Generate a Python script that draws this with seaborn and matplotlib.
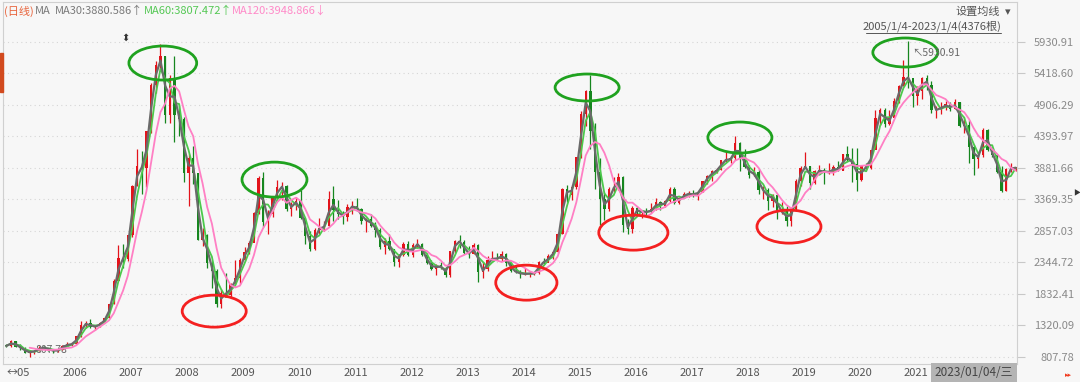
import numpy as np
import pandas as pd
import matplotlib
matplotlib.use("Agg")
import matplotlib.pyplot as plt
import seaborn as sns
from matplotlib.patches import Ellipse

# CSI 300, monthly bars 2005-01 .. 2022-12, then 2023/01/04
close = [
    982, 1059, 966, 954, 870, 891, 898, 957, 955, 917, 896, 923,          # 2005
    985, 1009, 1013, 1136, 1321, 1355, 1290, 1302, 1356, 1432, 1662, 2041,  # 2006
    2407, 2401, 2781, 3582, 3903, 3867, 4471, 5218, 5552, 5689, 4738, 5338,  # 2007
    4731, 4674, 3790, 4040, 3787, 2701, 2780, 2329, 2193, 1663, 1846, 1817,  # 2008
    1990, 2082, 2374, 2516, 2662, 3140, 3720, 2990, 3133, 3380, 3565, 3575,  # 2009
    3204, 3281, 3346, 3067, 2770, 2564, 2868, 2903, 2935, 3364, 3185, 3128,  # 2010
    3077, 3239, 3253, 3211, 3011, 3044, 2933, 2872, 2586, 2696, 2552, 2346,  # 2011
    2464, 2635, 2455, 2631, 2640, 2462, 2332, 2237, 2293, 2254, 2140, 2523,  # 2012
    2688, 2673, 2495, 2475, 2627, 2185, 2229, 2386, 2409, 2399, 2475, 2330,  # 2013
    2203, 2179, 2147, 2158, 2160, 2165, 2350, 2338, 2450, 2509, 2808, 3533,  # 2014
    3435, 3572, 4051, 4749, 5123, 4473, 3816, 3366, 3203, 3534, 3566, 3731,  # 2015
    2946, 2877, 3218, 3156, 3169, 3154, 3204, 3327, 3253, 3336, 3538, 3310,  # 2016
    3387, 3452, 3456, 3439, 3492, 3666, 3737, 3822, 3837, 4006, 4006, 4030,  # 2017
    4275, 4023, 3899, 3756, 3802, 3510, 3517, 3335, 3438, 3153, 3173, 3011,  # 2018
    3202, 3670, 3872, 3913, 3630, 3826, 3835, 3799, 3814, 3887, 3828, 4097,  # 2019
    4003, 3940, 3686, 3912, 3867, 4164, 4695, 4816, 4588, 4695, 4960, 5212,  # 2020
    5352, 5336, 5048, 5123, 5331, 5224, 4811, 4827, 4866, 4909, 4833, 4940,  # 2021
    4564, 4581, 4223, 4016, 4091, 4485, 4170, 4079, 3804, 3508, 3854, 3872,  # 2022
    3887,                                                                   # 2023
]
high = [
    1008, 1075, 1066, 1013, 961, 920, 920, 975, 985, 956, 920, 930,
    995, 1050, 1030, 1140, 1390, 1390, 1415, 1320, 1365, 1440, 1670, 2070,
    2620, 2640, 2790, 3600, 4180, 4150, 4480, 5260, 5620, 5892, 5700, 5390,
    5690, 4900, 4700, 4100, 4240, 3800, 2900, 2800, 2370, 2230, 1900, 2170,
    2000, 2380, 2420, 2590, 2690, 3160, 3750, 3803, 3200, 3400, 3680, 3650,
    3600, 3320, 3400, 3515, 3070, 2850, 2900, 3060, 3020, 3500, 3590, 3350,
    3180, 3290, 3340, 3390, 3230, 3060, 3130, 2990, 2900, 2730, 2800, 2560,
    2480, 2680, 2690, 2650, 2720, 2650, 2490, 2380, 2310, 2340, 2270, 2530,
    2700, 2791, 2710, 2600, 2660, 2640, 2350, 2440, 2520, 2500, 2520, 2490,
    2340, 2290, 2220, 2250, 2190, 2190, 2360, 2420, 2480, 2520, 2820, 3550,
    3600, 3600, 4060, 4800, 5140, 5380, 4600, 4030, 3480, 3560, 3730, 3790,
    3740, 3040, 3260, 3250, 3190, 3230, 3300, 3390, 3340, 3350, 3560, 3570,
    3400, 3490, 3500, 3510, 3500, 3670, 3760, 3850, 3870, 4010, 4150, 4060,
    4403, 4300, 4180, 3920, 3890, 3860, 3580, 3550, 3450, 3450, 3330, 3260,
    3210, 3700, 3900, 4127, 3900, 3850, 3920, 3880, 3960, 3930, 3990, 4100,
    4230, 4200, 4200, 3920, 3960, 4170, 4820, 4850, 4850, 4810, 5010, 5220,
    5626, 5931, 5260, 5200, 5350, 5380, 5290, 4880, 4950, 4960, 4950, 5000,
    4950, 4700, 4650, 4250, 4110, 4520, 4510, 4200, 4100, 3900, 3870, 3950,
    3890,
]
low = [
    960, 961, 962, 920, 860, 808, 845, 893, 930, 900, 870, 890,
    920, 980, 985, 1010, 1135, 1270, 1280, 1240, 1290, 1355, 1430, 1660,
    2040, 2250, 2360, 2760, 3580, 3450, 3560, 4450, 5100, 5450, 4600, 4600,
    4300, 4400, 3650, 3250, 3620, 2700, 2600, 2250, 1930, 1620, 1607, 1780,
    1780, 1990, 1990, 2360, 2480, 2740, 3130, 2920, 2810, 3080, 3350, 3360,
    3180, 3100, 3200, 3050, 2640, 2520, 2550, 2800, 2850, 2920, 3020, 3050,
    2970, 3020, 3120, 3170, 2960, 2830, 2920, 2750, 2560, 2480, 2540, 2290,
    2270, 2450, 2440, 2430, 2580, 2450, 2310, 2220, 2130, 2240, 2102, 2110,
    2500, 2580, 2470, 2420, 2470, 2023, 2080, 2200, 2380, 2380, 2370, 2290,
    2180, 2170, 2090, 2140, 2110, 2130, 2150, 2320, 2340, 2400, 2500, 2800,
    3320, 3360, 3540, 4030, 4550, 4190, 3530, 2950, 3030, 3170, 3480, 3520,
    2840, 2800, 2820, 3120, 3060, 3100, 3140, 3190, 3190, 3240, 3330, 3290,
    3290, 3380, 3400, 3400, 3350, 3480, 3620, 3670, 3790, 3840, 3980, 3960,
    4010, 3830, 3870, 3720, 3740, 3460, 3370, 3200, 3240, 3050, 3120, 2935,
    2940, 3190, 3590, 3870, 3540, 3620, 3790, 3620, 3780, 3760, 3820, 3850,
    3990, 3650, 3500, 3660, 3830, 3860, 4180, 4580, 4540, 4580, 4720, 4930,
    5210, 5180, 4860, 4900, 4990, 5140, 4770, 4680, 4760, 4810, 4800, 4840,
    4540, 4450, 3960, 3757, 3870, 4060, 4150, 4060, 3790, 3490, 3500, 3810,
    3820,
]
first_open = 1000

years = [str(y) for y in range(2005, 2022)]
ytick_labels = ["807.78", "1320.09", "1832.41", "2344.72", "2857.03", "3369.35",
                "3881.66", "4393.97", "4906.29", "5418.60", "5930.91"]

# highlighted tops / bottoms: (month index, level, width, height)
peaks = [(34.0, 5581, 14.5, 553), (57.9, 3686, 13.9, 569), (124.8, 5183, 13.7, 439),
         (157.5, 4370, 13.7, 504), (192.9, 5752, 13.9, 472)]
troughs = [(45.0, 1548, 13.7, 520), (111.8, 2011, 13.1, 569),
           (134.7, 2824, 14.8, 569), (168.0, 2922, 13.7, 537)]

df = pd.DataFrame({"close": close, "high": high, "low": low})
df["open"] = df["close"].shift(1).fillna(first_open)
df["pos"] = np.arange(len(df)) + 0.5
df["ma30"] = df["close"].rolling(2, min_periods=1).mean()
df["ma60"] = df["close"].rolling(3, min_periods=1).mean()
df["ma120"] = df["close"].rolling(6).mean()

sns.set_style("white")
plt.rcParams["font.family"] = ["Noto Sans CJK SC", "DejaVu Sans"]

W, H = 1080, 382
bg = "#f7f7f7"
fig = plt.figure(figsize=(W / 100, H / 100), dpi=100)
fig.patch.set_facecolor(bg)
ax = fig.add_axes([3 / W, 18 / H, 1014 / W, 362 / H])
ax.set_facecolor(bg)


def px(x, y):
    return x / W, 1 - y / H


# candles (red up / green down)
up = df["close"] >= df["open"]
colors = np.where(up, "#e3131b", "#16861f")
ax.vlines(df["pos"], df["low"], df["high"], colors=colors, linewidth=0.9, zorder=2)
ax.bar(df["pos"], (df["close"] - df["open"]).abs().clip(lower=8),
       bottom=np.minimum(df["open"], df["close"]), width=0.5, color=colors,
       linewidth=0, zorder=2)

sns.lineplot(data=df, x="pos", y="ma60", ax=ax, color="#4cc94c", linewidth=1.3, zorder=3)
sns.lineplot(data=df, x="pos", y="ma30", ax=ax, color="#6a6a6a", linewidth=1.6, zorder=4)
sns.lineplot(data=df, x="pos", y="ma120", ax=ax, color="#ff7fc4", linewidth=1.3, zorder=4)

for cx, cy, w, h in peaks:
    ax.add_patch(Ellipse((cx, cy), w, h, fill=False, edgecolor="#1fa21f", linewidth=2, zorder=6))
for cx, cy, w, h in troughs:
    ax.add_patch(Ellipse((cx, cy), w, h, fill=False, edgecolor="#f42020", linewidth=2, zorder=6))

ax.set_xlim(-0.2, len(df) - 0.2)
ax.set_ylim(689, 6573)
ytick_vals = [float(v) for v in ytick_labels]
ax.set_yticks(ytick_vals)
ax.set_yticklabels(ytick_labels)
ax.yaxis.tick_right()
ax.tick_params(axis="y", length=6, width=0.8, color="#c8c8c8", pad=35,
               labelsize=8, labelcolor="#8a8a8a")
for t in ax.yaxis.get_major_ticks():
    t.label2.set_horizontalalignment("right")
for v in ytick_vals:
    ax.axhline(v, color="#d6d6d6", linestyle=(0, (1, 3)), linewidth=0.8, zorder=0)

year_pos = [12 * i for i in range(len(years))]
ax.set_xticks(year_pos[1:] + [12 * len(years) + 12])
ax.set_xticklabels([])
ax.tick_params(axis="x", length=6, width=0.8, color="#d0d0d0", direction="out")
ax.set_xlabel("")
ax.set_ylabel("")
for name, p in zip(years, year_pos):
    text = "\u2194" + name[2:] if name == "2005" else name
    ax.text(p + 0.6, -0.026, text, transform=ax.get_xaxis_transform(), ha="left",
            va="center", fontsize=8, color="#555555")
fig.text(*px(974, 373), "2023/01/04/三", ha="center", va="center", fontsize=8.5,
         color="#444444", bbox=dict(boxstyle="square,pad=0.3", fc="#b4b4b4", ec="none"))
fig.text(*px(1068, 375), "\u25b8\u25b8", ha="center", va="center", fontsize=5, color="#f03c20")
fig.text(*px(1077, 193), "\u25b6", ha="center", va="center", fontsize=5, color="#333333")

for s in ax.spines.values():
    s.set_color("#d0d0d0")
    s.set_linewidth(0.8)

# peak / trough labels
imax = int(df["high"].idxmax())
ax.annotate("\u2196" + ytick_labels[-1], (df["pos"][imax], df["high"][imax]),
            xytext=(3, -8), textcoords="offset points", fontsize=7.5, color="#666666",
            va="center", ha="left", zorder=7)
imin = int(df["low"].idxmin())
ax.annotate(ytick_labels[0], (df["pos"][imin], df["low"][imin]),
            xytext=(4, 5), textcoords="offset points", fontsize=7.5, color="#666666",
            va="center", ha="left", zorder=1)
ax.text(df["pos"][33] - 7.5, 5990, "\u2b0d", fontsize=7, color="#333333",
        ha="center", va="center")

# header texts
fig.text(*px(4, 11), "(日线)", fontsize=8, color="#e8643c", va="center")
fig.text(*px(35, 11), "MA", fontsize=8, color="#7a7a7a", va="center")
fig.text(*px(55, 11), "MA30:3880.586\u2191", fontsize=8, color="#7a7a7a", va="center")
fig.text(*px(144, 11), "MA60:3807.472\u2191", fontsize=8, color="#55c855", va="center")
fig.text(*px(232, 11), "MA120:3948.866\u2193", fontsize=8, color="#ff8ac8", va="center")
fig.text(*px(1000, 12), "设置均线", fontsize=8, color="#555555", va="center", ha="right")
fig.text(*px(1008, 12), "\u25be", fontsize=8, color="#555555", va="center", ha="center")
fig.text(*px(1001, 26), "2005/1/4-2023/1/4(4376根)", fontsize=8, color="#555555",
         va="center", ha="right")
fig.add_artist(plt.Line2D([866 / W, 1001 / W], [1 - 33 / H, 1 - 33 / H], color="#555555", linewidth=0.7))
fig.add_artist(plt.Rectangle(px(0, 92), 3 / W, 39 / H, color="#d24a1e"))

fig.savefig("out.png", dpi=100, facecolor=bg)
